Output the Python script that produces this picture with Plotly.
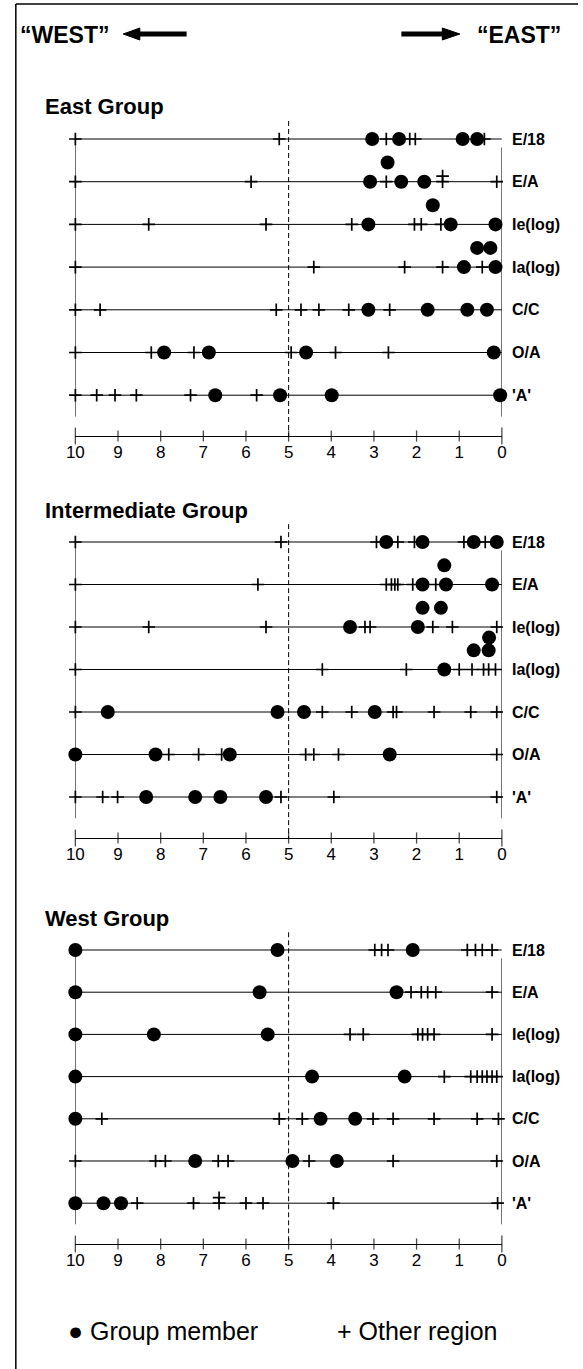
import plotly.graph_objects as go

W, H = 583, 1369

# ---------------- data ----------------
rows = ["E/18", "E/A", "Ie(log)", "Ia(log)", "C/C", "O/A", "'A'"]
tick_values = [10, 9, 8, 7, 6, 5, 4, 3, 2, 1, 0]
groups = ["East Group", "Intermediate Group", "West Group"]

# East group
east_members = [[3.04, 2.41, 0.92, 0.58], [3.09, 2.36, 1.82], [3.13, 1.20, 0.15], [0.89, 0.15],
                [3.13, 1.74, 0.81, 0.35], [7.92, 6.87, 4.59, 0.19], [6.72, 5.20, 3.99, 0.04]]
east_stack1 = [[], [2.68], [1.62], [0.58, 0.27], [], [], []]
east_stack2 = [[], [], [], [], [], [], []]
east_others = [[10, 5.22, 2.71, 2.16, 2.03, 0.41],
               [10, 5.88, 2.71, 1.39, 1.39, 0.12],
               [10, 8.28, 5.53, 3.52, 2.05, 1.89, 1.43],
               [10, 4.41, 2.28, 1.39, 0.46],
               [10, 9.42, 5.29, 4.71, 4.29, 3.59, 2.63],
               [10, 8.22, 7.22, 4.94, 3.90, 2.66],
               [10, 9.50, 9.07, 8.57, 7.30, 5.75]]

# Intermediate group
inter_members = [[2.71, 1.86, 0.66, 0.12], [1.86, 1.31, 0.23], [3.56, 1.97], [1.35],
                 [9.24, 5.26, 4.64, 2.98], [10, 8.12, 6.38, 2.63], [8.34, 7.19, 6.60, 5.53]]
inter_stack1 = [[], [1.35], [1.86, 1.43], [0.66, 0.31], [], [], []]
inter_stack2 = [[], [], [], [0.30], [], [], []]
inter_others = [[10, 5.18, 2.94, 2.44, 2.05, 0.89, 0.39],
                [10, 5.72, 2.71, 2.59, 2.51, 2.44, 2.09, 1.55],
                [10, 8.28, 5.53, 3.21, 3.09, 1.62, 1.16, 0.12],
                [10, 4.21, 2.24, 1.00, 0.70, 0.43, 0.31, 0.15],
                [10, 4.21, 3.52, 2.55, 2.47, 1.59, 0.73, 0.12],
                [7.81, 7.11, 6.57, 4.60, 4.41, 3.83, 0.12],
                [10, 9.36, 9.01, 5.18, 3.94, 0.12]]

# West group
west_members = [[10, 5.26, 2.09], [10, 5.68, 2.47], [10, 8.16, 5.49], [10, 4.45, 2.28],
                [10, 4.25, 3.44], [7.19, 4.91, 3.87], [10, 9.34, 8.93]]
west_stack1 = [[], [], [], [], [], [], []]
west_stack2 = [[], [], [], [], [], [], []]
west_others = [[2.98, 2.82, 2.67, 0.81, 0.62, 0.46, 0.23],
               [2.13, 1.89, 1.74, 1.55, 0.23],
               [3.56, 3.25, 1.97, 1.86, 1.74, 1.59, 0.23],
               [1.35, 0.73, 0.58, 0.46, 0.35, 0.23, 0.12],
               [9.38, 5.22, 4.68, 3.02, 2.55, 1.59, 0.58, 0.08],
               [10, 8.12, 7.89, 6.65, 6.42, 4.52, 2.55, 0.12],
               [8.55, 7.23, 6.63, 6.63, 6.00, 5.60, 3.95, 0.10]]

members_all = [east_members, inter_members, west_members]
stack1_all = [east_stack1, inter_stack1, west_stack1]
stack2_all = [east_stack2, inter_stack2, west_stack2]
others_all = [east_others, inter_others, west_others]

# ---------------- layout geometry (pixels) ----------------
# (first row y, row spacing, axis line y, title y)
geom = [(139, 42.7, 436, 107), (542, 42.5, 838, 510), (950, 42.2, 1244, 918)]
X10_PX, X0_PX = 68, 505
LABEL_X_PX = 513
FONT = "Liberation Sans, Arial, Helvetica, sans-serif"


def px(x):
    return x / W


def py(y):
    return 1 - y / H


fig = go.Figure()
annotations = []
shapes = []
layout_axes = {}

for i, gname in enumerate(groups):
    n = i + 1
    xref = "x" if n == 1 else f"x{n}"
    yref = "y" if n == 1 else f"y{n}"
    row0, sp, axis_py, title_py = geom[i]
    axis_row = (axis_py - row0) / sp
    top_row = -1.0
    top_py = row0 + top_row * sp

    layout_axes[f"xaxis{'' if n == 1 else n}"] = dict(
        domain=[px(X10_PX), px(X0_PX)], range=[10, 0], anchor=yref,
        showline=True, linecolor="black", linewidth=1.2,
        tickvals=tick_values, ticktext=[str(t) for t in tick_values],
        ticks="", showgrid=False, zeroline=False,
        tickfont=dict(family=FONT, size=17, color="black"),
    )
    layout_axes[f"yaxis{'' if n == 1 else n}"] = dict(
        domain=[py(axis_py), py(top_py)], range=[axis_row, top_row],
        anchor=xref, visible=False, showgrid=False, zeroline=False,
    )

    # row lines
    lx, ly = [], []
    for r in range(len(rows)):
        lx += [10, 0, None]
        ly += [r, r, None]
    # left / right verticals
    lx += [10, 10, None, 0, 0, None]
    ly += [0, 6.5, None, 0.2, 6.5, None]
    fig.add_trace(go.Scatter(x=lx, y=ly, mode="lines", xaxis=xref, yaxis=yref,
                             line=dict(color="black", width=1), hoverinfo="skip",
                             showlegend=False))
    # dashed line at 5
    fig.add_trace(go.Scatter(x=[5, 5], y=[-0.42, axis_row], mode="lines", xaxis=xref, yaxis=yref,
                             line=dict(color="black", width=1, dash="5px,3px"),
                             hoverinfo="skip", showlegend=False))
    # axis tick marks
    fig.add_trace(go.Scatter(x=tick_values, y=[axis_row] * len(tick_values), mode="markers",
                             xaxis=xref, yaxis=yref, cliponaxis=False, hoverinfo="skip",
                             marker=dict(symbol="line-ns",
                                         size=[12 if t in (0, 10) else 8 for t in tick_values],
                                         line=dict(color="black", width=1.3)),
                             showlegend=False))

    # other regions (+)
    ox, oy = [], []
    for r, vals in enumerate(others_all[i]):
        seen = {}
        for v in vals:
            k = seen.get(v, 0)
            seen[v] = k + 1
            ox.append(v)
            oy.append(r - 0.13 * k)
    fig.add_trace(go.Scatter(x=ox, y=oy, mode="markers", xaxis=xref, yaxis=yref,
                             cliponaxis=False, name="Other region",
                             marker=dict(symbol="cross-thin", size=9,
                                         line=dict(color="black", width=1.7)),
                             showlegend=False))

    # group members (filled circles)
    mx, my = [], []
    for r in range(len(rows)):
        for v in members_all[i][r]:
            mx.append(v)
            my.append(r)
        for v in stack1_all[i][r]:
            mx.append(v)
            my.append(r - 0.45)
        for v in stack2_all[i][r]:
            mx.append(v)
            my.append(r - 0.75)
    fig.add_trace(go.Scatter(x=mx, y=my, mode="markers", xaxis=xref, yaxis=yref,
                             cliponaxis=False, name="Group member",
                             marker=dict(symbol="circle", size=14, color="black",
                                         line=dict(width=0)),
                             showlegend=False))

    # row labels
    for r, lab in enumerate(rows):
        annotations.append(dict(x=px(LABEL_X_PX), xref="paper", y=r, yref=yref,
                                text=f"<b>{lab}</b>", showarrow=False, xanchor="left",
                                yanchor="middle",
                                font=dict(family=FONT, size=16, color="black")))
    # group title
    annotations.append(dict(x=px(35), xref="paper", y=py(title_py), yref="paper",
                            text=f"<b>{gname}</b>", showarrow=False, xanchor="left",
                            yanchor="middle", font=dict(family=FONT, size=22, color="black")))

# header
annotations.append(dict(x=px(9), xref="paper", y=py(35), yref="paper",
                        text="<b>\u201cWEST\u201d</b>", showarrow=False, xanchor="left",
                        yanchor="middle", font=dict(family=FONT, size=23, color="black")))
annotations.append(dict(x=px(568), xref="paper", y=py(35), yref="paper",
                        text="<b>\u201cEAST\u201d</b>", showarrow=False, xanchor="right",
                        yanchor="middle", font=dict(family=FONT, size=23, color="black")))

# arrows
shapes.append(dict(type="line", xref="paper", yref="paper", x0=px(182), x1=px(131),
                   y0=py(34), y1=py(34), line=dict(color="black", width=5)))
shapes.append(dict(type="path", xref="paper", yref="paper",
                   path=f"M {px(117)} {py(34)} L {px(134)} {py(28)} L {px(134)} {py(40)} Z",
                   fillcolor="black", line=dict(color="black", width=1)))
shapes.append(dict(type="line", xref="paper", yref="paper", x0=px(402), x1=px(447),
                   y0=py(34), y1=py(34), line=dict(color="black", width=5)))
shapes.append(dict(type="path", xref="paper", yref="paper",
                   path=f"M {px(462)} {py(34)} L {px(444)} {py(28)} L {px(444)} {py(40)} Z",
                   fillcolor="black", line=dict(color="black", width=1)))

# frame (top and left borders)
shapes.append(dict(type="line", xref="paper", yref="paper", x0=px(7), x1=1,
                   y0=py(4), y1=py(4), line=dict(color="black", width=1.5)))
shapes.append(dict(type="line", xref="paper", yref="paper", x0=px(7), x1=px(7),
                   y0=py(4), y1=0, line=dict(color="black", width=1.5)))

# legend
annotations.append(dict(x=px(58), xref="paper", y=py(1331), yref="paper",
                        text="\u25CF Group member", showarrow=False, xanchor="left",
                        yanchor="middle", font=dict(family=FONT, size=25, color="black")))
annotations.append(dict(x=px(334), xref="paper", y=py(1331), yref="paper",
                        text="+ Other region", showarrow=False, xanchor="left",
                        yanchor="middle", font=dict(family=FONT, size=25, color="black")))

fig.update_layout(
    width=W, height=H, margin=dict(l=0, r=0, t=0, b=0),
    paper_bgcolor="white", plot_bgcolor="white",
    showlegend=False, annotations=annotations, shapes=shapes,
    **layout_axes,
)

fig.write_html("out.html", config={"displayModeBar": False},
               post_script="document.body.style.margin='0';")
